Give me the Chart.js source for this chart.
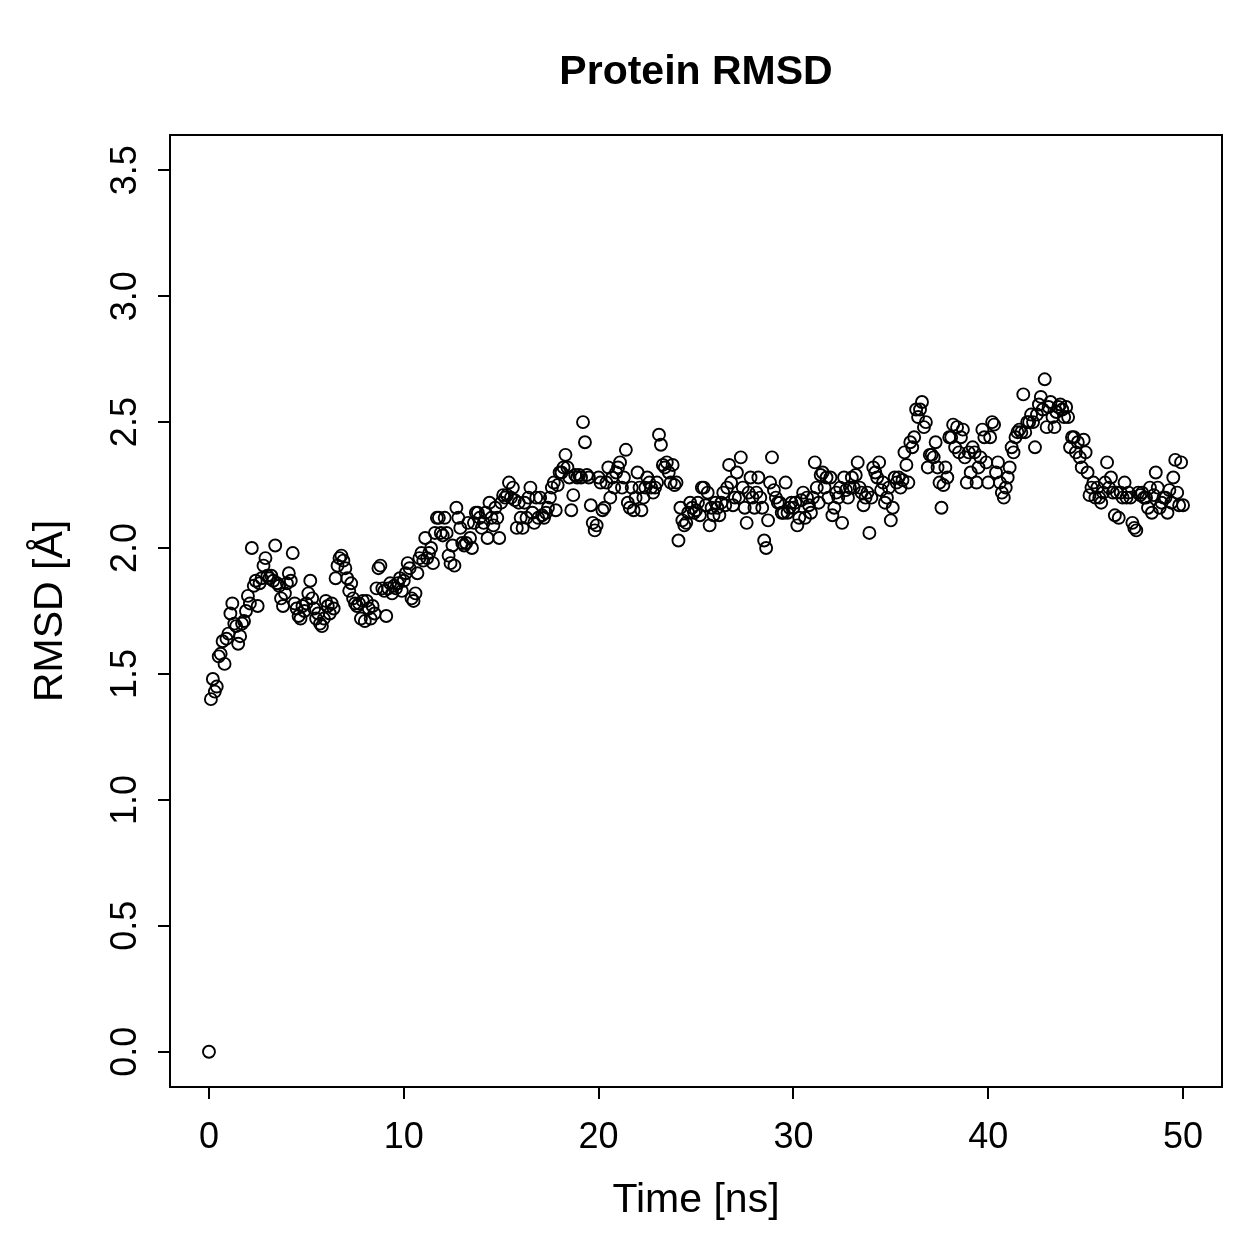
<!DOCTYPE html>
<html>
<head>
<meta charset="utf-8">
<script src="https://cdn.jsdelivr.net/npm/chart.js@4/dist/chart.umd.min.js"></script>
<style>
  html, body { margin: 0; padding: 0; background: #ffffff; }
  canvas { display: block; }
</style>
</head>
<body>
<canvas id="c" width="1259" height="1259"></canvas>
<script>
// ---- data ----
const chartTitle = "Protein RMSD";
const xAxisTitle = "Time [ns]";
const yAxisTitle = "RMSD [Å]";
const timeStepNs = 0.1;           // sampling interval of the trajectory
const xTicks = [0, 10, 20, 30, 40, 50];
const yTicks = [0.0, 0.5, 1.0, 1.5, 2.0, 2.5, 3.0, 3.5];
const yTickLabels = ["0.0", "0.5", "1.0", "1.5", "2.0", "2.5", "3.0", "3.5"];
const xRange = [-2, 52];
const yRange = [-0.14, 3.64];

const rmsd = [
  0.00,
  1.40,1.48,1.43,1.45,1.57,1.58,1.63,1.54,1.64,1.66,
  1.74,1.78,1.70,1.69,1.62,1.65,1.70,1.71,1.75,1.81,
  1.78,2.00,1.85,1.87,1.77,1.86,1.88,1.93,1.96,1.89,
  1.88,1.89,1.87,2.01,1.86,1.85,1.80,1.77,1.82,1.86,
  1.90,1.87,1.98,1.78,1.76,1.73,1.72,1.77,1.75,1.78,
  1.82,1.87,1.80,1.76,1.72,1.74,1.70,1.69,1.72,1.79,
  1.77,1.74,1.78,1.76,1.88,1.93,1.96,1.97,1.95,1.92,
  1.88,1.83,1.86,1.80,1.78,1.77,1.78,1.72,1.79,1.71,
  1.79,1.76,1.72,1.77,1.74,1.84,1.92,1.93,1.84,1.83,
  1.73,1.84,1.86,1.82,1.85,1.84,1.86,1.88,1.83,1.87,
  1.90,1.94,1.92,1.80,1.79,1.82,1.90,1.96,1.98,1.95,
  2.04,1.96,1.98,2.00,1.94,2.06,2.12,2.12,2.06,2.05,
  2.12,2.06,1.97,1.94,2.01,1.93,2.16,2.12,2.08,2.02,
  2.01,2.02,2.10,2.04,2.00,2.10,2.14,2.14,2.12,2.08,
  2.10,2.14,2.04,2.18,2.12,2.09,2.16,2.12,2.04,2.18,
  2.21,2.20,2.21,2.26,2.20,2.24,2.19,2.08,2.18,2.12,
  2.08,2.18,2.12,2.20,2.24,2.14,2.10,2.20,2.12,2.20,
  2.13,2.12,2.14,2.16,2.20,2.24,2.26,2.15,2.25,2.30,
  2.30,2.32,2.37,2.32,2.28,2.15,2.21,2.29,2.28,2.29,
  2.28,2.50,2.42,2.29,2.28,2.17,2.10,2.07,2.09,2.28,
  2.26,2.15,2.16,2.26,2.32,2.20,2.28,2.24,2.30,2.32,
  2.34,2.24,2.28,2.39,2.18,2.16,2.24,2.15,2.20,2.30,
  2.24,2.15,2.20,2.24,2.28,2.26,2.24,2.22,2.24,2.26,
  2.45,2.41,2.33,2.32,2.34,2.30,2.26,2.33,2.25,2.26,
  2.03,2.16,2.11,2.09,2.10,2.14,2.18,2.16,2.14,2.15,
  2.18,2.13,2.24,2.24,2.17,2.22,2.09,2.16,2.13,2.18,
  2.16,2.13,2.18,2.22,2.17,2.24,2.33,2.26,2.17,2.20,
  2.30,2.20,2.36,2.24,2.16,2.10,2.22,2.28,2.20,2.16,
  2.22,2.28,2.20,2.16,2.03,2.00,2.11,2.26,2.36,2.23,
  2.20,2.18,2.18,2.14,2.14,2.26,2.14,2.16,2.18,2.16,
  2.18,2.09,2.12,2.19,2.22,2.12,2.20,2.17,2.14,2.20,
  2.34,2.24,2.18,2.29,2.30,2.24,2.28,2.20,2.28,2.13,
  2.16,2.22,2.20,2.24,2.10,2.28,2.23,2.20,2.24,2.28,
  2.24,2.29,2.34,2.24,2.22,2.17,2.20,2.22,2.06,2.20,
  2.32,2.30,2.28,2.34,2.23,2.26,2.18,2.20,2.24,2.11,
  2.16,2.28,2.26,2.28,2.24,2.27,2.38,2.33,2.26,2.42,
  2.40,2.44,2.55,2.52,2.55,2.58,2.48,2.50,2.32,2.37,
  2.37,2.36,2.42,2.32,2.26,2.16,2.25,2.32,2.28,2.44,
  2.44,2.49,2.40,2.48,2.38,2.44,2.47,2.36,2.26,2.38,
  2.30,2.40,2.38,2.26,2.32,2.36,2.47,2.44,2.34,2.26,
  2.44,2.50,2.49,2.30,2.34,2.26,2.22,2.20,2.24,2.28,
  2.32,2.40,2.38,2.44,2.46,2.47,2.46,2.61,2.46,2.50,
  2.50,2.53,2.50,2.40,2.53,2.57,2.60,2.55,2.67,2.48,
  2.56,2.58,2.52,2.48,2.54,2.56,2.57,2.55,2.52,2.56,
  2.52,2.40,2.44,2.44,2.38,2.42,2.36,2.32,2.43,2.38,
  2.30,2.21,2.24,2.26,2.20,2.24,2.20,2.18,2.22,2.26,
  2.34,2.24,2.28,2.22,2.13,2.22,2.12,2.22,2.20,2.26,
  2.20,2.22,2.20,2.10,2.08,2.07,2.22,2.21,2.22,2.20,
  2.20,2.16,2.24,2.14,2.21,2.30,2.24,2.16,2.18,2.20,
  2.20,2.14,2.23,2.18,2.28,2.35,2.22,2.17,2.34,2.17
];

// ---- build dataset ----
const points = rmsd.map((v, i) => ({ x: Math.round(i * timeStepNs * 10) / 10, y: v }));

const FONT = "'Liberation Sans', Arial, Helvetica, sans-serif";

const framePlugin = {
  id: 'frame',
  afterDraw(chart) {
    const { ctx, chartArea: a, scales } = chart;
    ctx.save();
    ctx.strokeStyle = '#000';
    ctx.lineWidth = 2;
    ctx.strokeRect(a.left, a.top, a.right - a.left, a.bottom - a.top);
    ctx.fillStyle = '#000';
    // main title, centred over the plotting region (as R does)
    ctx.font = "bold 41px " + FONT;
    ctx.textAlign = 'center';
    ctx.textBaseline = 'alphabetic';
    ctx.fillText(chartTitle, (a.left + a.right) / 2, 84);
    // y tick labels, rotated like R's default (las = 0)
    const ys = scales.y;
    ctx.font = "36px " + FONT;
    yTicks.forEach((v, i) => {
      const py = ys.getPixelForValue(v);
      ctx.save();
      ctx.translate(136, py);
      ctx.rotate(-Math.PI / 2);
      ctx.fillText(yTickLabels[i], 0, 0);
      ctx.restore();
    });
    ctx.restore();
  }
};

new Chart(document.getElementById('c'), {
  type: 'scatter',
  data: {
    datasets: [{
      data: points,
      pointStyle: 'circle',
      pointRadius: 6,
      pointHoverRadius: 6,
      pointBorderWidth: 1.9,
      pointBorderColor: '#000',
      pointBackgroundColor: 'rgba(0,0,0,0)',
      showLine: false
    }]
  },
  options: {
    responsive: false,
    animation: false,
    events: [],
    layout: { padding: { left: 0, right: 37, top: 135, bottom: 0 } },
    plugins: {
      legend: { display: false },
      tooltip: { enabled: false },
      title: { display: false }
    },
    scales: {
      x: {
        type: 'linear',
        position: 'bottom',
        min: xRange[0],
        max: xRange[1],
        afterBuildTicks(scale) { scale.ticks = xTicks.map(v => ({ value: v })); },
        afterFit(scale) { scale.height = 172; },
        grid: { display: true, drawOnChartArea: false, drawTicks: true, tickLength: 12, color: '#000', lineWidth: 2 },
        border: { display: true, color: '#000', width: 2 },
        ticks: {
          color: '#000',
          font: { family: FONT, size: 36 },
          padding: 17,
          maxRotation: 0,
          minRotation: 0,
          autoSkip: false,
          callback: (v) => String(v)
        },
        title: {
          display: true,
          text: xAxisTitle,
          color: '#000',
          font: { family: FONT, size: 41, lineHeight: 1.2 },
          padding: { top: 0, bottom: 34 }
        }
      },
      y: {
        type: 'linear',
        position: 'left',
        min: yRange[0],
        max: yRange[1],
        afterBuildTicks(scale) { scale.ticks = yTicks.map(v => ({ value: v })); },
        afterFit(scale) { scale.width = 170; },
        grid: { display: true, drawOnChartArea: false, drawTicks: true, tickLength: 12, color: '#000', lineWidth: 2 },
        border: { display: true, color: '#000', width: 2 },
        ticks: { display: false },
        title: {
          display: true,
          text: yAxisTitle,
          color: '#000',
          font: { family: FONT, size: 41, lineHeight: 1.2 },
          padding: { top: 26, bottom: 0 }
        }
      }
    }
  },
  plugins: [framePlugin]
});
</script>
</body>
</html>
